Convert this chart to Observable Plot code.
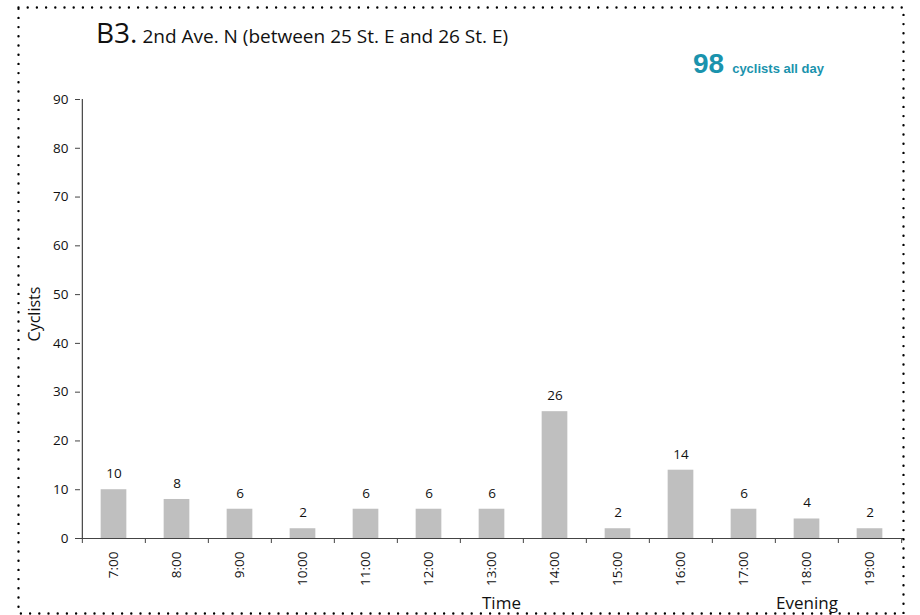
<!DOCTYPE html>
<html>
<head>
<meta charset="utf-8">
<script src="https://cdn.jsdelivr.net/npm/d3@7"></script>
<script src="https://cdn.jsdelivr.net/npm/@observablehq/plot@0.6"></script>
<style>
  body { margin: 0; background: #fff; }
  #wrap { position: relative; width: 920px; height: 615px; overflow: hidden; font-family: "Open Sans", sans-serif; color: #111; }
  #wrap svg { position: absolute; left: 0; top: 0; }
</style>
</head>
<body>
<div id="wrap"></div>
<script>
const hours = ["7:00","8:00","9:00","10:00","11:00","12:00","13:00","14:00","15:00","16:00","17:00","18:00","19:00"];
const counts = [10, 8, 6, 2, 6, 6, 6, 26, 2, 14, 6, 4, 2];
const yTicks = [0, 10, 20, 30, 40, 50, 60, 70, 80, 90];
const titleCode = "B3.";
const titleText = " 2nd Ave. N (between 25 St. E and 26 St. E)";
const totalValue = "98";
const totalText = "cyclists all day";
const yLabel = "Cyclists";
const xLabel = "Time";
const xNote = "Evening";

const data = hours.map((h, i) => ({hour: h, count: counts[i]}));
const W = 920, H = 615, ML = 80, MR = 17, MT = 99, MB = 77;
const step = (W - ML - MR) / hours.length;
const inset = (step - 26) / 2;
const axisColor = "#444";

const chart = Plot.plot({
  width: W, height: H,
  marginLeft: ML, marginRight: MR, marginTop: MT, marginBottom: MB,
  style: {fontFamily: "Open Sans, sans-serif", fontSize: "13px", color: "#222", background: "transparent", overflow: "visible"},
  x: {domain: hours, padding: 0},
  y: {domain: [0, 90]},
  marks: [
    Plot.barY(data, {x: "hour", y: "count", fill: "#bfbfbf", insetLeft: inset, insetRight: inset}),
    Plot.text(data, {x: "hour", y: "count", text: d => String(d.count), dy: -16, fill: "#111", fontSize: 13.5}),
    Plot.ruleY([0], {stroke: axisColor, strokeWidth: 1.2}),
    Plot.ruleX([hours[0]], {y1: 0, y2: 90, dx: -step / 2, stroke: axisColor, strokeWidth: 1.2}),
    Plot.axisY(yTicks, {tickSize: 5, tickPadding: 7, label: null, stroke: axisColor, fill: "#111", fontSize: 13.5}),
    Plot.axisX(hours, {tickSize: 5, text: null, dx: -step / 2, label: null, stroke: axisColor}),
    Plot.axisX([hours[hours.length - 1]], {tickSize: 5, text: null, dx: step / 2, label: null, stroke: axisColor}),
    Plot.axisX(hours, {tickSize: 0, tickPadding: 13, tickRotate: -90, label: null, fill: "#111", fontSize: 13.5})
  ]
});
const wrap = document.getElementById("wrap");
wrap.appendChild(chart);

// overlay: texts and dotted border
const ov = d3.select(wrap).append("svg")
  .attr("width", W).attr("height", H)
  .style("pointer-events", "none")
  .style("font-family", "'Open Sans', sans-serif");

const t = ov.append("text").attr("x", 96).attr("y", 43).attr("fill", "#111");
t.append("tspan").attr("font-size", 28).text(titleCode);
t.append("tspan").attr("font-size", 19).attr("xml:space", "preserve").text(titleText);

const tot = ov.append("text").attr("x", 693).attr("y", 73).attr("fill", "#1a93ad")
  .style("font-family", "'Liberation Sans', Arial, sans-serif").attr("font-weight", "bold");
tot.append("tspan").attr("font-size", 28).text(totalValue);
tot.append("tspan").attr("font-size", 13).attr("dx", 8).text(totalText);

ov.append("text").attr("transform", "translate(40,314) rotate(-90)").attr("text-anchor", "middle")
  .attr("font-size", 16).attr("fill", "#111").text(yLabel);
ov.append("text").attr("x", 482).attr("y", 609).attr("font-size", 17).attr("fill", "#111").text(xLabel);
ov.append("text").attr("x", 776).attr("y", 609).attr("font-size", 17).attr("fill", "#111").text(xNote);

ov.append("rect")
  .attr("x", 18.5).attr("y", 7.5).attr("width", 885).attr("height", 606)
  .attr("fill", "none").attr("stroke", "#000").attr("stroke-width", 2.4)
  .attr("stroke-linecap", "round").attr("stroke-dasharray", "0 9.2");
</script>
</body>
</html>
